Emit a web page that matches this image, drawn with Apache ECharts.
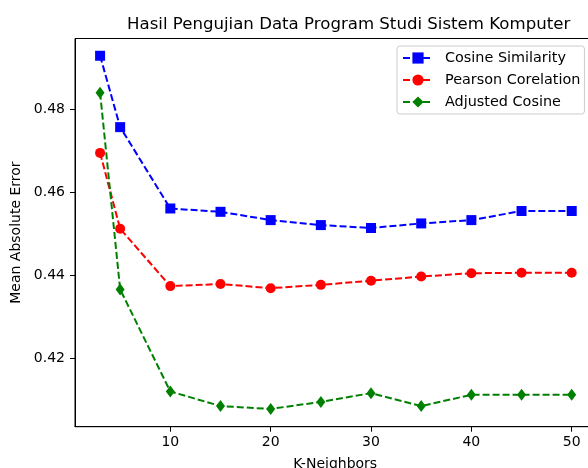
<!DOCTYPE html>
<html>
<head>
<meta charset="utf-8">
<script src="https://cdn.jsdelivr.net/npm/echarts@6/dist/echarts.min.js"></script>
<style>
  html, body { margin: 0; padding: 0; background: #fff; }
  #chart { width: 588px; height: 468px; }
</style>
</head>
<body>
<div id="chart"></div>
<script>
const kNeighbors = [3, 5, 10, 15, 20, 25, 30, 35, 40, 45, 50]
const cosineSimilarity = [0.4929, 0.4757, 0.4561, 0.4553, 0.4533, 0.4521, 0.4514, 0.4525, 0.4533, 0.4555, 0.4555]
const pearsonCorelation = [0.4695, 0.4512, 0.4374, 0.4379, 0.4369, 0.4377, 0.4387, 0.4397, 0.4405, 0.4406, 0.4406]
const adjustedCosine = [0.4840, 0.4366, 0.4120, 0.4085, 0.4078, 0.4095, 0.4116, 0.4085, 0.4112, 0.4112, 0.4112]
const xTicks = [10, 20, 30, 40, 50]
const yTicks = [0.42, 0.44, 0.46, 0.48]

const FONT = 'DejaVu Sans'
const pairs = (ys) => kNeighbors.map((k, i) => [k, ys[i]])

const chart = echarts.init(document.getElementById('chart'))

const makeSeries = (name, data, color, symbol, size) => ({
  name,
  type: 'line',
  data: pairs(data),
  symbol,
  symbolSize: size,
  showAllSymbol: true,
  itemStyle: { color },
  lineStyle: { color, width: 2, type: [7, 3] },
  animation: false,
})

chart.setOption({
  animation: false,
  title: {
    text: 'Hasil Pengujian Data Program Studi Sistem Komputer',
    left: 122,
    top: 11,
    textStyle: { fontFamily: FONT, fontSize: 16.6, fontWeight: 'normal', color: '#000' },
  },
  legend: {
    orient: 'vertical',
    left: 397,
    top: 46,
    padding: [5, 4, 5, 5],
    itemGap: 8,
    itemWidth: 30,
    itemHeight: 14,
    backgroundColor: '#fff',
    borderColor: '#cccccc',
    borderWidth: 1,
    borderRadius: 3,
    textStyle: { fontFamily: FONT, fontSize: 14.4, color: '#000', padding: [0, 0, 0, 7] },
    data: ['Cosine Similarity', 'Pearson Corelation', 'Adjusted Cosine'],
  },
  grid: {
    left: 75, top: 38.5, width: 520.3, height: 388.2,
    outerBoundsMode: 'none',
    containLabel: false,
    show: true,
    borderColor: '#000',
    borderWidth: 1,
    backgroundColor: 'transparent',
  },
  xAxis: {
    type: 'value',
    min: 0.5,
    max: 52.35,
    name: 'K-Neighbors',
    nameLocation: 'middle',
    nameGap: 31,
    nameTextStyle: { fontFamily: FONT, fontSize: 14, color: '#000' },
    axisLine: { lineStyle: { color: '#000', width: 1 } },
    axisTick: { show: true, length: 5, customValues: xTicks, lineStyle: { color: '#000' } },
    axisLabel: { customValues: xTicks, margin: 9, fontFamily: FONT, fontSize: 14, color: '#000' },
    splitLine: { show: false },
  },
  yAxis: {
    type: 'value',
    min: 0.40352,
    max: 0.49706,
    name: 'Mean Absolute Error',
    nameLocation: 'middle',
    nameGap: 51,
    nameTextStyle: { fontFamily: FONT, fontSize: 14, color: '#000' },
    axisLine: { show: true, lineStyle: { color: '#000', width: 1 } },
    axisTick: { show: true, length: 5, customValues: yTicks, lineStyle: { color: '#000' } },
    axisLabel: {
      customValues: yTicks,
      margin: 10,
      fontFamily: FONT,
      fontSize: 14,
      color: '#000',
      formatter: (v) => v.toFixed(2),
    },
    splitLine: { show: false },
  },
  series: [
    makeSeries('Cosine Similarity', cosineSimilarity, '#0000ff', 'rect', 10),
    makeSeries('Pearson Corelation', pearsonCorelation, '#ff0000', 'circle', 10),
    makeSeries('Adjusted Cosine', adjustedCosine, '#008000', 'diamond', [9, 12]),
  ],
})
</script>
</body>
</html>
